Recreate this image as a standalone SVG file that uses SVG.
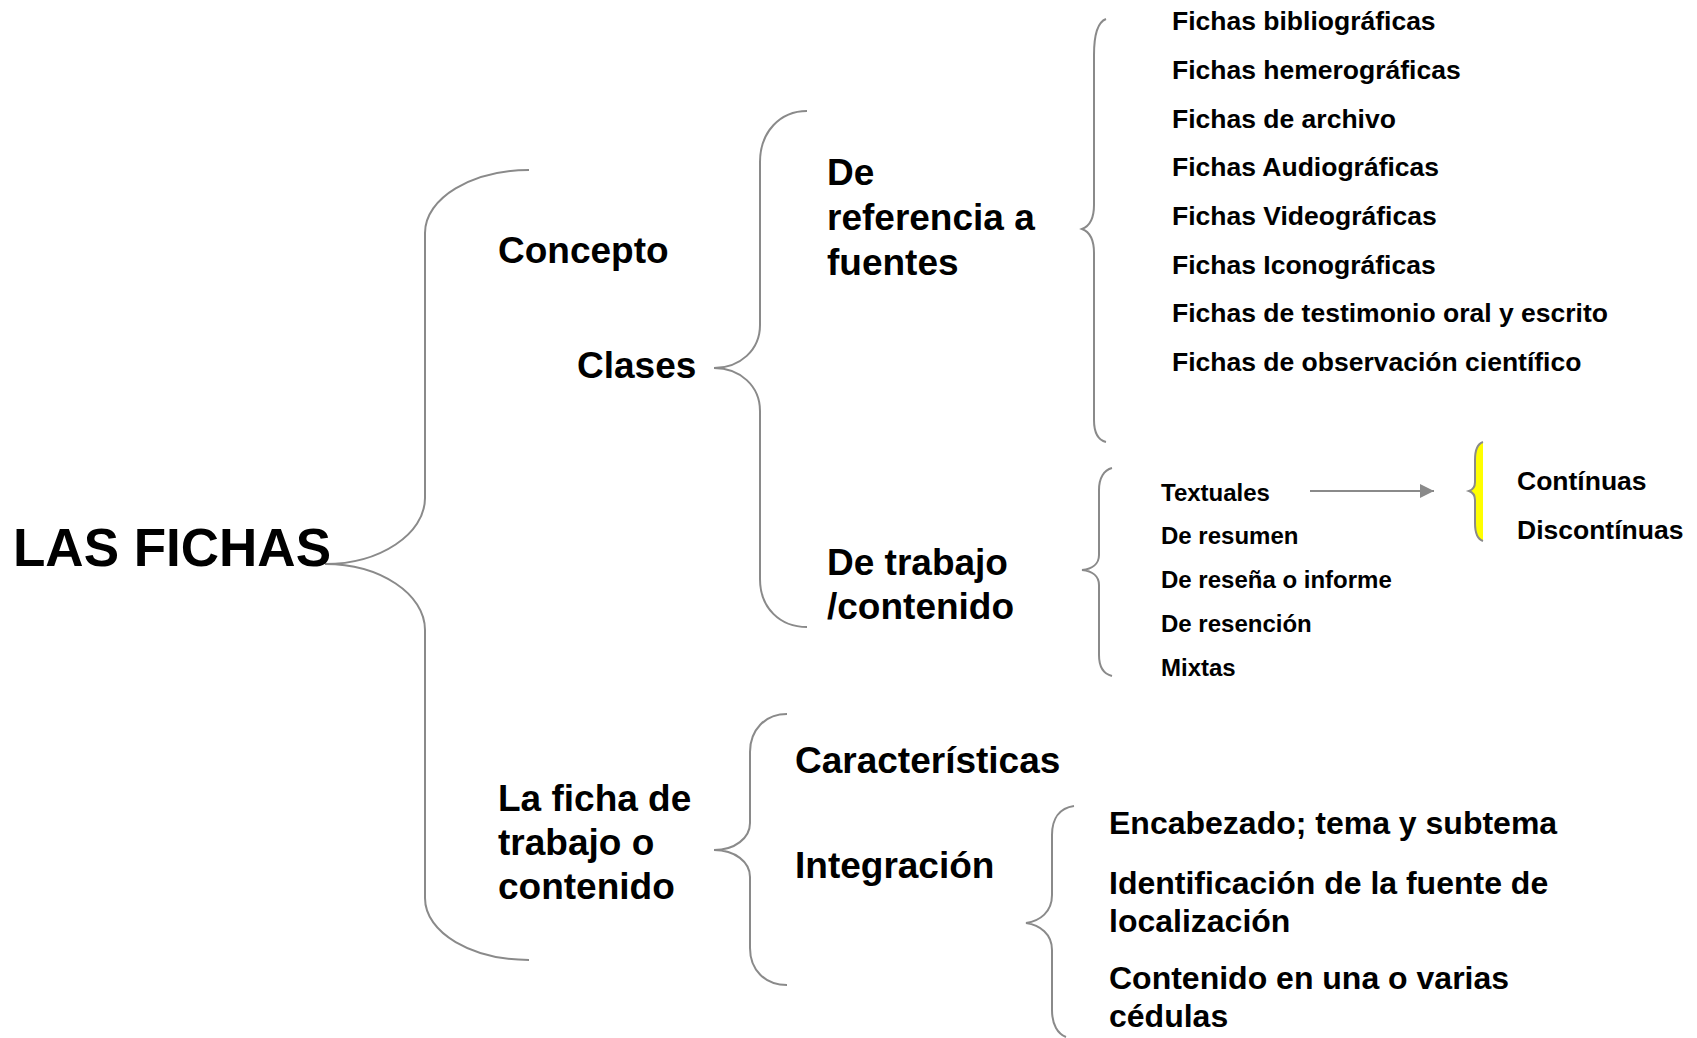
<svg xmlns="http://www.w3.org/2000/svg" width="1697" height="1038" viewBox="0 0 1697 1038">
<defs>
<style>
text{font-family:"Liberation Sans",Arial,sans-serif;font-weight:bold;fill:#000}
.br{fill:none;stroke:#8a8a8a;stroke-width:2}
.t53{font-size:53px}.t37{font-size:37px}.t32{font-size:32px}.t26{font-size:26.5px}.t24{font-size:24px}
</style>
<marker id="ah" viewBox="0 0 10 10" refX="10" refY="5" markerWidth="7" markerHeight="7" markerUnits="strokeWidth" orient="auto"><path d="M0,0 L10,5 L0,10 z" fill="#8a8a8a"/></marker>
</defs>
<rect width="1697" height="1038" fill="#fff"/>
<g id="connectors">
<path class="br" d="M529,170 C472,170 425,198 425,233 L425,498 C425,534 380,564 325,564 C380,564 425,594 425,630 L425,898 C425,933 472,960 529,960"/>
<path class="br" d="M807,111 C780,111 760,132 760,162 L760,325 C760,350 740,368 714,368 C740,368 760,386 760,411 L760,579 C760,608 780,627 807,627"/>
<path class="br" d="M1106,19 C1098,22 1094,35 1094,55 L1094,205 C1094,218 1090,226 1082,229 C1090,232 1094,240 1094,253 L1094,420 C1094,432 1098,440 1106,442"/>
<path class="br" d="M1112,468 C1104,470 1099,478 1099,490 L1099,555 C1099,564 1092,569 1082,570 C1092,571 1099,576 1099,585 L1099,655 C1099,667 1104,674 1112,676"/>
<path class="br" d="M787,714 C765,714 750,730 750,752 L750,823 C750,838 735,850 714,850 C735,850 750,862 750,877 L750,948 C750,970 765,985 787,985"/>
<path class="br" d="M1074,806 C1060,808 1052,818 1052,835 L1052,895 C1052,912 1040,921 1026,923 C1040,925 1052,934 1052,950 L1052,1010 C1052,1025 1058,1034 1066,1037"/>
<path d="M1483,442 C1477,444 1475,450 1475,460 L1475,482 C1475,487 1472,490 1469,491 C1472,492 1475,495 1475,500 L1475,523 C1475,533 1477,539 1483,541 Z" fill="#ffff00"/>
<path class="br" d="M1483,442 C1477,444 1475,450 1475,460 L1475,482 C1475,487 1472,490 1469,491 C1472,492 1475,495 1475,500 L1475,523 C1475,533 1477,539 1483,541" stroke-width="1.5"/>
<line x1="1310" y1="491" x2="1434" y2="491" stroke="#8a8a8a" stroke-width="2" marker-end="url(#ah)"/>
</g>
<g id="n-lasfichas"><text class="t53" x="13" y="566">LAS FICHAS</text></g>
<g id="n-concepto"><text class="t37" x="498" y="263">Concepto</text></g>
<g id="n-clases"><text class="t37" x="577" y="378">Clases</text></g>
<g id="n-referencia"><text class="t37" x="827" y="185">De</text><text class="t37" x="827" y="230">referencia a</text><text class="t37" x="827" y="275">fuentes</text></g>
<g id="n-trabajo"><text class="t37" x="827" y="575">De trabajo</text><text class="t37" x="827" y="619">/contenido</text></g>
<g id="n-fichaslist">
<text class="t26" x="1172" y="30">Fichas bibliográficas</text>
<text class="t26" x="1172" y="79">Fichas hemerográficas</text>
<text class="t26" x="1172" y="128">Fichas de archivo</text>
<text class="t26" x="1172" y="176">Fichas Audiográficas</text>
<text class="t26" x="1172" y="225">Fichas Videográficas</text>
<text class="t26" x="1172" y="274">Fichas Iconográficas</text>
<text class="t26" x="1172" y="322">Fichas de testimonio oral y escrito</text>
<text class="t26" x="1172" y="371">Fichas de observación científico</text>
</g>
<g id="n-trabajolist">
<text class="t24" x="1161" y="501">Textuales</text>
<text class="t24" x="1161" y="544">De resumen</text>
<text class="t24" x="1161" y="588">De reseña o informe</text>
<text class="t24" x="1161" y="632">De resención</text>
<text class="t24" x="1161" y="676">Mixtas</text>
</g>
<g id="n-continuas"><text class="t26" x="1517" y="490">Contínuas</text><text class="t26" x="1517" y="539">Discontínuas</text></g>
<g id="n-fichatrabajo"><text class="t37" x="498" y="811">La ficha de</text><text class="t37" x="498" y="855">trabajo o</text><text class="t37" x="498" y="899">contenido</text></g>
<g id="n-caracteristicas"><text class="t37" x="795" y="773">Características</text></g>
<g id="n-integracion"><text class="t37" x="795" y="878">Integración</text></g>
<g id="n-integlist">
<text class="t32" x="1109" y="834">Encabezado; tema y subtema</text>
<text class="t32" x="1109" y="894">Identificación de la fuente de</text>
<text class="t32" x="1109" y="932">localización</text>
<text class="t32" x="1109" y="989">Contenido en una o varias</text>
<text class="t32" x="1109" y="1027">cédulas</text>
</g>
</svg>
